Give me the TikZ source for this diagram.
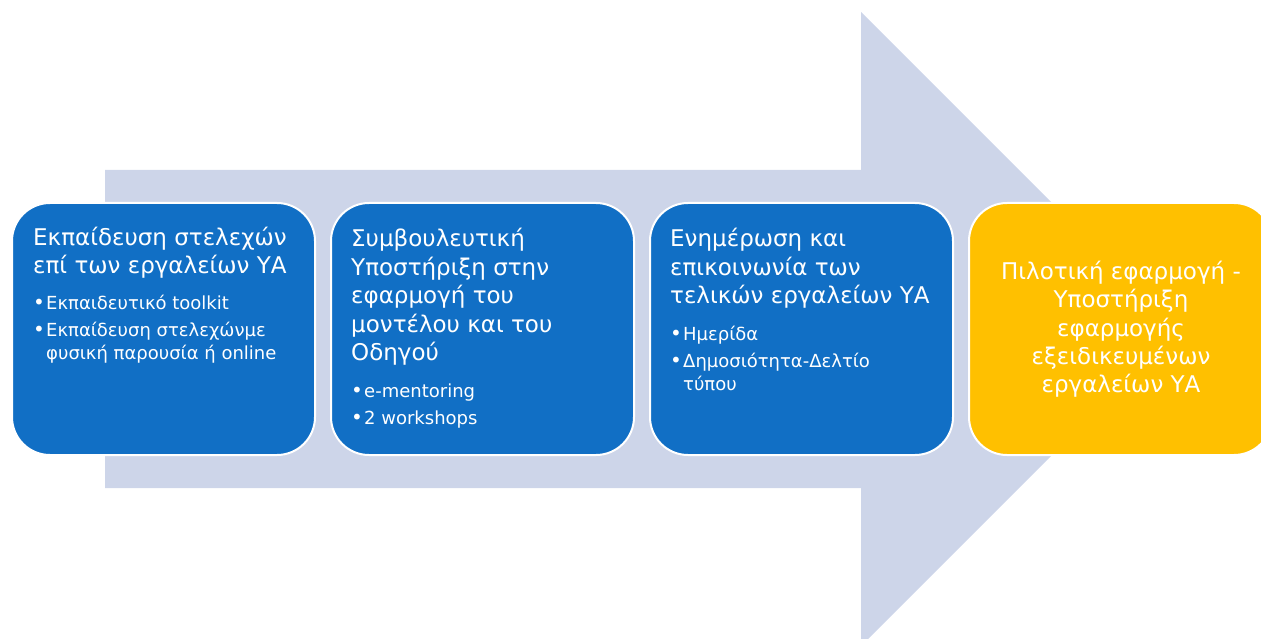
\documentclass[tikz,border=0pt]{standalone}
\usepackage{fontspec}
\setmainfont{DejaVu Sans}
\definecolor{arrowfill}{HTML}{CDD5E9}
\definecolor{boxblue}{HTML}{116FC5}
\definecolor{boxyellow}{HTML}{FFC000}
\newcommand{\titlefont}{\fontsize{23}{28.5}\selectfont}
\newcommand{\itemfont}{\fontsize{18}{23}\selectfont}
\newcommand{\bul}{\makebox[13pt][l]{\fontsize{20}{20}\selectfont •}}
\newcommand{\cont}{\hspace*{13pt}}
\begin{document}
\begin{tikzpicture}[x=1pt,y=-1pt,
  stage/.style={draw=white,line width=2pt,rounded corners=38pt},
  txt/.style={anchor=base west,inner sep=0pt,text=white}]
\useasboundingbox (0,0) rectangle (1261,639);
\fill[arrowfill] (105,170) -- (861,170) -- (861,12) -- (1178,329) -- (861,646) -- (861,488) -- (105,488) -- cycle;
\begin{scope}
\clip (0,0) rectangle (1261,639);
\filldraw[stage,fill=boxblue] (12,203) rectangle (315,455);
\filldraw[stage,fill=boxblue] (331,203) rectangle (634,455);
\filldraw[stage,fill=boxblue] (650,203) rectangle (953,455);
\filldraw[stage,fill=boxyellow] (969,203) rectangle (1272,455);
\end{scope}
\node[txt] (t1) at (33,245) {\parbox[t]{280pt}{\raggedright
  \titlefont Εκπαίδευση στελεχών\\επί των εργαλείων ΥΑ\par
  \vspace{13.5pt}\itemfont
  \bul Εκπαιδευτικό toolkit\par\vspace{4pt}
  \bul Εκπαίδευση στελεχώνμε\\\cont φυσική παρουσία ή online\par}};
\node[txt] (t2) at (351,247) {\parbox[t]{280pt}{\raggedright
  \titlefont Συμβουλευτική\\Υποστήριξη στην\\εφαρμογή του\\μοντέλου και του\\Οδηγού\par
  \vspace{13.5pt}\itemfont
  \bul e-mentoring\par\vspace{4pt}
  \bul 2 workshops\par}};
\node[txt] (t3) at (670,247) {\parbox[t]{280pt}{\raggedright
  \titlefont Ενημέρωση και\\επικοινωνία των\\τελικών εργαλείων ΥΑ\par
  \vspace{13.5pt}\itemfont
  \bul Ημερίδα\par\vspace{4pt}
  \bul Δημοσιότητα-Δελτίο\\\cont τύπου\par}};
\node[anchor=base,inner sep=0pt,text=white] (t4) at (1121,279) {\parbox[t]{280pt}{\centering
  \titlefont Πιλοτική εφαρμογή -\\Υποστήριξη\\εφαρμογής\\εξειδικευμένων\\εργαλείων ΥΑ\par}};
\end{tikzpicture}
\end{document}
